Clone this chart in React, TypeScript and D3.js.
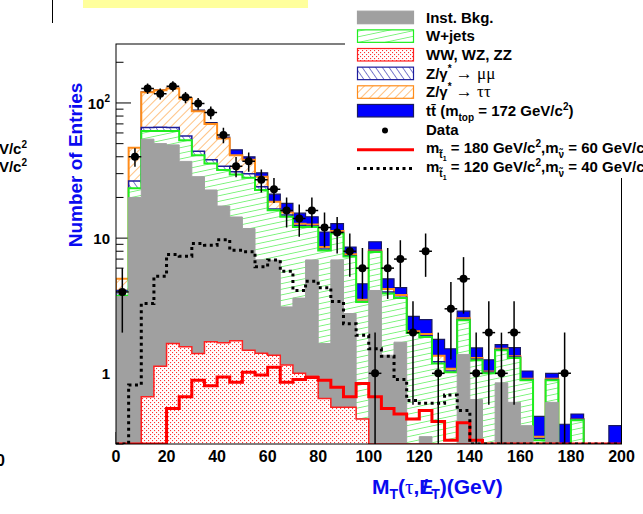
import React, { useRef, useEffect } from 'react';
import * as d3 from 'd3';

// 5 GeV bins from 0 to 200
const binLow = d3.range(0, 200, 5);

// stack components, bottom to top
const dibosons = [0, 0, 0.67, 1.13, 1.66, 1.57, 1.4, 1.71, 1.68, 1.74, 1.48, 1.41, 1.36, 1.15, 1.0, 0.95, 0.65, 0.56, 0.56, 0.46,
    0, 0, 0, 0, 0, 0, 0, 0, 0, 0, 0, 0, 0, 0, 0, 0, 0, 0, 0, 0];
const instBkg = [3.7, 20, 53.3, 48.9, 47.3, 35.4, 27.1, 21, 15.6, 12.6, 10.3, 5.5, 5.5, 1.95, 2.6, 5.95, 1.01, 6.34, 2.21, 0,
    4.1, 1.36, 1.7, 0, 0.34, 0, 0, 1.38, 0.64, 0, 0.85, 0.61, 0.41, 0, 0.61, 0, 0, 0, 0, 0];
const wjets = [0.05, 3.4, 8, 12, 13, 16, 12.5, 13, 14.7, 15.2, 16.2, 15.8, 9.2, 11.3, 8.5, 5.2, 6.44, 3.9, 4.53, 2.91,
    3.8, 2.54, 1.9, 1.99, 1.52, 1.18, 1.02, 1.09, 0.61, 1.0, 0.63, 0.69, 0.48, 0.32, 0.28, 0, 0.45, 0, 0, 0];
const zmumu = [0.35, 3.1, 4, 4, 4, 4, 3, 2.3, 2, 1.5, 2, 1.3, 0.4, 0.4, 0.3, 0.2, 0.2, 0.2, 0.1, 0.03,
    0.1, 0.1, 0.05, 0.01, 0.04, 0.04, 0.02, 0.03, 0.02, 0.02, 0.02, 0.02, 0.01, 0.01, 0.01, 0, 0.01, 0, 0, 0];
const ztautau = [0.9, 20.2, 54, 58, 62, 51, 43, 32, 20.6, 10, 8, 4.5, 2.1, 0.7, 0.4, 0.3, 0.3, 0.3, 0.2, 0.1,
    0.1, 0.2, 0.15, 0.05, 0.05, 0.13, 0.04, 0.05, 0.03, 0.01, 0.02, 0.02, 0.01, 0.01, 0.01, 0, 0, 0, 0, 0];
const ttbar = [0, 0, 1, 1, 1, 1, 1.5, 1.5, 1.4, 4, 2, 1.9, 2.6, 2.6, 2.5, 1.8, 2.5, 1.5, 1.0, 1.1,
    1.3, 0.8, 0.5, 0.59, 0.55, 0.43, 0.44, 0.33, 0.24, 0.23, 0.11, 0.21, 0.13, 0.14, 0.09, 0.42, 0.04, 0, 0, 0.41];

const dataCounts = [4, 40, 128, 117, 133, 110, 99, 85, 58, 34, 37, 27, 23, 16, 14, 16, 12, 11, 8, 6,
    1, 6, 7, 2, 8, 1, 3, 5, 1, 2, 1, 2, 0, 0, 0, 1, 0, 0, 0, 0];

// signal points
const signal180 = [0, 0, 0, 0, 0.55, 0.67, 0.89, 0.81, 0.94, 0.86, 1.02, 0.97, 1.11, 0.86, 0.9, 0.93, 0.89, 0.79, 0.67, 0.84,
    0.67, 0.55, 0.5, 0.46, 0.53, 0.44, 0.32, 0.43, 0.32, 0, 0, 0, 0, 0, 0, 0, 0, 0, 0, 0];
const signal120 = [0, 0.82, 3.28, 5.23, 7.56, 7.36, 9.12, 8.87, 9.75, 8.13, 7.93, 6.13, 6.9, 5.7, 4.1, 4.8, 4.3, 3.4, 2.33, 1.91,
    1.52, 1.34, 0.9, 0.63, 0.6, 0.6, 0.69, 0.53, 0, 0, 0, 0, 0, 0, 0, 0, 0, 0, 0, 0];

const xTickValues = [0, 20, 40, 60, 80, 100, 120, 140, 160, 180, 200];
const yMajorTicks = [1, 10, 100];
const yMinorTicks = [0.3, 0.4, 0.5, 0.6, 0.7, 0.8, 0.9, 2, 3, 4, 5, 6, 7, 8, 9, 20, 30, 40, 50, 60, 70, 80, 90, 200];

type Part = { t: string; size?: number; shift?: number; weight?: string; family?: string };

const App = () => {
    const svgRef = useRef<SVGSVGElement>(null);

    useEffect(() => {
        if (!svgRef.current) return;
        const svg = d3.select(svgRef.current);
        svg.selectAll('*').remove();

        const left = 116, right = 621.5, top = 44, bottom = 444;
        const blue = '#0a0af0';

        const x = d3.scaleLinear().domain([0, 200]).range([left, right]);
        const y = d3.scaleLog().domain([0.3, 273]).range([bottom, top]);
        const yv = (v: number) => (v <= 0.3 ? bottom : y(v));

        const defs = svg.append('defs');
        defs.append('clipPath').attr('id', 'frameClip')
            .append('rect').attr('x', left).attr('y', top).attr('width', right - left).attr('height', bottom - top);

        const hatch = (id: string, color: string, size: number, angle: number, sw: number) => {
            const p = defs.append('pattern').attr('id', id).attr('patternUnits', 'userSpaceOnUse')
                .attr('width', size).attr('height', size).attr('patternTransform', `rotate(${angle})`);
            p.append('rect').attr('width', size).attr('height', size).attr('fill', '#fff');
            p.append('line').attr('x1', 0).attr('y1', 0).attr('x2', size).attr('y2', 0)
                .attr('stroke', color).attr('stroke-width', sw);
        };
        hatch('hOrange', '#ff9a30', 6, -45, 1.2);
        hatch('hBlue', '#2a2ab0', 5.5, 55, 1.2);
        hatch('hGreen', '#33ee33', 5.5, -12, 1.2);
        const dots = defs.append('pattern').attr('id', 'dRed').attr('patternUnits', 'userSpaceOnUse')
            .attr('width', 4).attr('height', 4);
        dots.append('rect').attr('width', 4).attr('height', 4).attr('fill', '#fff');
        dots.append('rect').attr('x', 0).attr('y', 0).attr('width', 1.1).attr('height', 1.1).attr('fill', '#ff3030');
        dots.append('rect').attr('x', 2).attr('y', 2).attr('width', 1.1).attr('height', 1.1).attr('fill', '#ff3030');

        // background
        svg.append('rect').attr('width', 643).attr('height', 514).attr('fill', '#fff');

        // stray bits of the neighbouring panels
        svg.append('rect').attr('x', 83).attr('y', 0).attr('width', 225).attr('height', 8).attr('fill', '#ffff9c');
        svg.append('line').attr('x1', 52.5).attr('x2', 52.5).attr('y1', 0).attr('y2', 23).attr('stroke', '#000');

        // ticks (under the histograms)
        const ticks = svg.append('g').attr('stroke', '#000').attr('stroke-width', 1);
        yMajorTicks.forEach(v => ticks.append('line').attr('x1', left).attr('x2', left + 15).attr('y1', y(v)).attr('y2', y(v)));
        yMinorTicks.forEach(v => ticks.append('line').attr('x1', left).attr('x2', left + 7.5).attr('y1', y(v)).attr('y2', y(v)));
        xTickValues.forEach(v => ticks.append('line').attr('x1', x(v)).attr('x2', x(v)).attr('y1', bottom).attr('y2', bottom - 12));

        const plot = svg.append('g').attr('clip-path', 'url(#frameClip)');

        const stepPts = (vals: number[]) => {
            const pts: [number, number][] = [[left, bottom]];
            vals.forEach((v, i) => {
                const yy = yv(v);
                pts.push([x(binLow[i]), yy], [x(binLow[i] + 5), yy]);
            });
            pts.push([right, bottom]);
            return pts;
        };
        const line = d3.line();

        const comps = [
            { vals: dibosons, fill: 'url(#dRed)', stroke: '#ff2020', sw: 1.5 },
            { vals: instBkg, fill: '#a0a0a0', stroke: '#a0a0a0', sw: 1 },
            { vals: wjets, fill: 'url(#hGreen)', stroke: '#1fee1f', sw: 2 },
            { vals: zmumu, fill: 'url(#hBlue)', stroke: '#1c1c9c', sw: 1.5 },
            { vals: ztautau, fill: 'url(#hOrange)', stroke: '#ff8c1a', sw: 2 },
            { vals: ttbar, fill: '#0000ff', stroke: '#1a1a60', sw: 1.2 },
        ];
        const cum: number[][] = [];
        comps.forEach((c, k) => {
            cum.push(c.vals.map((v, i) => v + (k > 0 ? cum[k - 1][i] : 0)));
        });
        for (let k = comps.length - 1; k >= 0; k--) {
            const pts = stepPts(cum[k]);
            plot.append('path').attr('d', line(pts) + 'Z').attr('fill', comps[k].fill).attr('stroke', 'none');
            plot.append('path').attr('d', line(pts)).attr('fill', 'none')
                .attr('stroke', comps[k].stroke).attr('stroke-width', comps[k].sw);
        }

        // signals
        plot.append('path').attr('d', line(stepPts(signal180))).attr('fill', 'none')
            .attr('stroke', '#ff0000').attr('stroke-width', 3);
        plot.append('path').attr('d', line(stepPts(signal120))).attr('fill', 'none')
            .attr('stroke', '#000').attr('stroke-width', 3).attr('stroke-dasharray', '3,3.5');

        // data
        const dg = plot.append('g');
        dataCounts.forEach((n, i) => {
            if (n <= 0) return;
            const cx = x(binLow[i] + 2.5);
            const e = Math.sqrt(n);
            dg.append('line').attr('x1', cx).attr('x2', cx).attr('y1', yv(n + e)).attr('y2', yv(n - e))
                .attr('stroke', '#000').attr('stroke-width', 1.5);
            dg.append('line').attr('x1', x(binLow[i])).attr('x2', x(binLow[i] + 5)).attr('y1', y(n)).attr('y2', y(n))
                .attr('stroke', '#000').attr('stroke-width', 1.5);
            dg.append('circle').attr('cx', cx).attr('cy', y(n)).attr('r', 4).attr('fill', '#000');
        });

        // frame
        svg.append('rect').attr('x', left).attr('y', top).attr('width', right - left).attr('height', bottom - top)
            .attr('fill', 'none').attr('stroke', '#000').attr('stroke-width', 1);

        const addText = (g: any, tx: number, ty: number, parts: Part[], opts: any = {}) => {
            const t = g.append('text').attr('x', tx).attr('y', ty)
                .attr('font-family', 'Liberation Sans, Arial, sans-serif').attr('font-weight', 'bold')
                .attr('font-size', opts.size || 15).attr('fill', opts.fill || '#000');
            if (opts.anchor) t.attr('text-anchor', opts.anchor);
            if (opts.transform) t.attr('transform', opts.transform);
            let prev = 0;
            parts.forEach(p => {
                const s = p.shift || 0;
                const ts = t.append('tspan').attr('dy', s - prev).text(p.t);
                if (p.size) ts.attr('font-size', p.size);
                if (p.weight) ts.attr('font-weight', p.weight);
                if (p.family) ts.attr('font-family', p.family);
                prev = s;
            });
            return t;
        };

        // axis labels
        xTickValues.forEach(v => addText(svg, x(v), 462, [{ t: String(v) }], { anchor: 'middle', size: 16 }));
        addText(svg, 110, y(1) + 6, [{ t: '1' }], { anchor: 'end' });
        addText(svg, 110, y(10) + 6, [{ t: '10' }], { anchor: 'end' });
        addText(svg, 110, y(100) + 6, [{ t: '10' }, { t: '2', size: 10, shift: -7 }], { anchor: 'end' });

        addText(svg, 0, 0, [{ t: 'Number of Entries' }],
            { anchor: 'middle', size: 19, fill: blue, transform: 'translate(82,165) rotate(-90)' });

        const xt = addText(svg, 372, 494, [], { size: 21, fill: blue });
        xt.append('tspan').text('M');
        xt.append('tspan').attr('font-size', 14).attr('dy', 5).text('T');
        xt.append('tspan').attr('dy', -5).text('(');
        xt.append('tspan').attr('font-family', 'Liberation Serif, serif').attr('font-weight', 'normal').text('τ');
        xt.append('tspan').text(',E');
        xt.append('tspan').attr('dx', -11).text('/');
        xt.append('tspan').attr('font-size', 14).attr('dx', 3).attr('dy', 5).text('T');
        xt.append('tspan').attr('dy', -5).text(')(GeV)');

        // remnants of the panel on the left
        addText(svg, 27, 154, [{ t: 'GeV/c' }, { t: '2', size: 10, shift: -6 }], { anchor: 'end' });
        addText(svg, 27, 172, [{ t: 'GeV/c' }, { t: '2', size: 10, shift: -6 }], { anchor: 'end' });
        addText(svg, 5, 466, [{ t: '200' }], { anchor: 'end', size: 16 });

        // legend
        const lg = svg.append('g');
        lg.append('rect').attr('x', 345).attr('y', 0).attr('width', 298).attr('height', 178).attr('fill', '#fff');
        const base = (i: number) => 22.7 + 18.65 * i;
        const sw = (i: number, fill: string, stroke: string) => lg.append('rect').attr('x', 357.5).attr('y', base(i) - 11.5)
            .attr('width', 56).attr('height', 12.5).attr('fill', fill).attr('stroke', stroke).attr('stroke-width', 1.2);
        sw(0, '#a0a0a0', '#a0a0a0');
        sw(1, 'url(#hGreen)', '#1fee1f');
        sw(2, 'url(#dRed)', '#ff2020');
        sw(3, 'url(#hBlue)', '#1c1c9c');
        sw(4, 'url(#hOrange)', '#ff8c1a');
        sw(5, '#0000ff', '#1a1a60');
        lg.append('circle').attr('cx', 385).attr('cy', base(6) - 4).attr('r', 3).attr('fill', '#000');
        lg.append('line').attr('x1', 357).attr('x2', 414).attr('y1', base(7) - 3.5).attr('y2', base(7) - 3.5)
            .attr('stroke', '#ff0000').attr('stroke-width', 3);
        lg.append('line').attr('x1', 357).attr('x2', 414).attr('y1', base(8) - 3.5).attr('y2', base(8) - 3.5)
            .attr('stroke', '#000').attr('stroke-width', 3).attr('stroke-dasharray', '3,3.5');

        const serif = 'Liberation Serif, serif';
        const labels: Part[][] = [
            [{ t: 'Inst. Bkg.' }],
            [{ t: 'W+jets' }],
            [{ t: 'WW, WZ, ZZ' }],
            [{ t: 'Z/γ' }, { t: '*', size: 10, shift: -7 }, { t: '  → μμ', size: 17, weight: 'normal', family: serif, shift: 0 }],
            [{ t: 'Z/γ' }, { t: '*', size: 10, shift: -7 }, { t: '  → ττ', size: 17, weight: 'normal', family: serif, shift: 0 }],
            [{ t: 'tt\u0304 (m' }, { t: 'top', size: 10, shift: 5 }, { t: ' = 172 GeV/c' }, { t: '2', size: 10, shift: -6 }, { t: ')' }],
            [{ t: 'Data' }],
            [{ t: 'm' }, { t: 't\u0303', size: 10, shift: 5 }, { t: '1', size: 7, shift: 8 }, { t: ' = 180 GeV/c' },
                { t: '2', size: 10, shift: -6 }, { t: ',m' }, { t: 'ν\u0303', size: 10, shift: 5 }, { t: ' = 60 GeV/c' },
                { t: '2', size: 10, shift: -6 }],
            [{ t: 'm' }, { t: 't\u0303', size: 10, shift: 5 }, { t: '1', size: 7, shift: 8 }, { t: ' = 120 GeV/c' },
                { t: '2', size: 10, shift: -6 }, { t: ',m' }, { t: 'ν\u0303', size: 10, shift: 5 }, { t: ' = 40 GeV/c' },
                { t: '2', size: 10, shift: -6 }],
        ];
        labels.forEach((parts, i) => addText(lg, 426, base(i), parts));
    }, []);

    return (
        <svg
            ref={svgRef}
            width={643}
            height={514}
            style={{ position: 'absolute', left: 0, top: 0, display: 'block' }}
        />
    );
};

export default App;
